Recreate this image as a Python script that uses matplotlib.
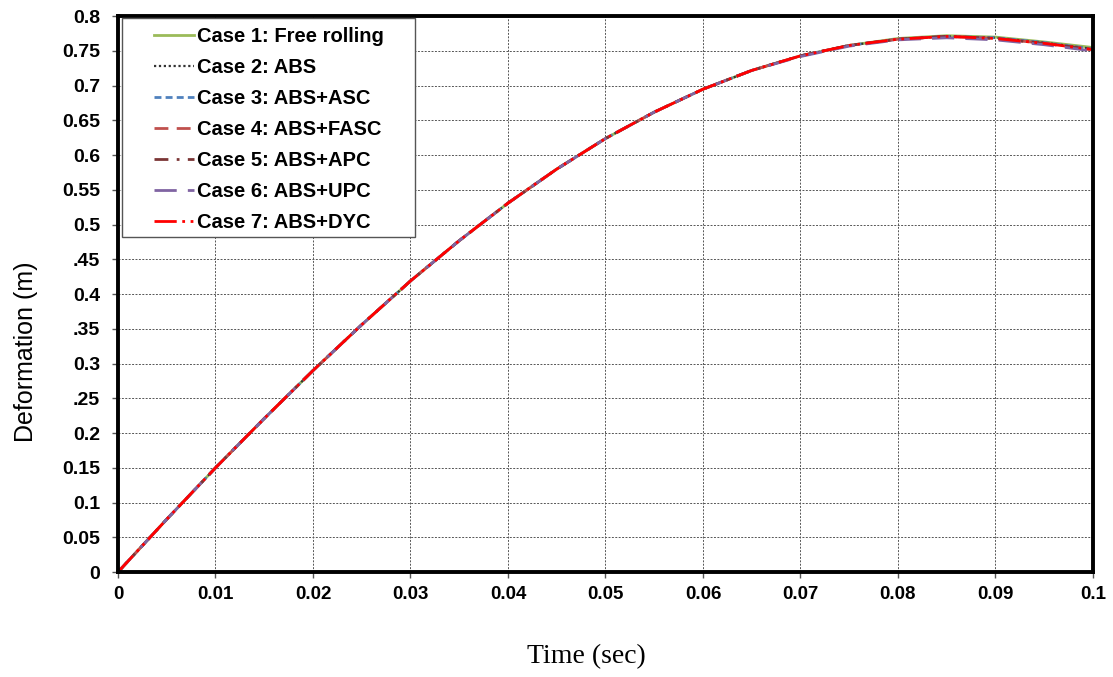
import numpy as np
import matplotlib
matplotlib.use('Agg')
import matplotlib.pyplot as plt
from matplotlib.patches import Rectangle

# time axis (sec)
time = [0.0, 0.005, 0.01, 0.015, 0.02, 0.025, 0.03, 0.035, 0.04, 0.045, 0.05,
        0.055, 0.06, 0.065, 0.07, 0.075, 0.08, 0.085, 0.09, 0.095, 0.1]

# deformation (m), one list per case
case1 = [0.0, 0.076, 0.150, 0.221, 0.290, 0.356, 0.419, 0.477, 0.531, 0.580, 0.624,
         0.662, 0.695, 0.722, 0.743, 0.758, 0.768, 0.772, 0.770, 0.763, 0.755]
case2 = [0.0, 0.076, 0.150, 0.221, 0.290, 0.356, 0.419, 0.477, 0.531, 0.580, 0.624,
         0.662, 0.695, 0.722, 0.743, 0.758, 0.767, 0.771, 0.769, 0.762, 0.753]
case3 = [0.0, 0.076, 0.150, 0.221, 0.290, 0.356, 0.419, 0.477, 0.531, 0.580, 0.624,
         0.662, 0.695, 0.722, 0.743, 0.758, 0.767, 0.771, 0.769, 0.762, 0.753]
case4 = [0.0, 0.076, 0.150, 0.221, 0.290, 0.356, 0.419, 0.477, 0.531, 0.580, 0.624,
         0.662, 0.695, 0.722, 0.743, 0.758, 0.767, 0.771, 0.768, 0.761, 0.752]
case5 = [0.0, 0.076, 0.150, 0.221, 0.290, 0.356, 0.419, 0.477, 0.531, 0.580, 0.624,
         0.662, 0.695, 0.722, 0.743, 0.758, 0.767, 0.771, 0.768, 0.761, 0.752]
case6 = [0.0, 0.076, 0.150, 0.221, 0.290, 0.356, 0.419, 0.477, 0.531, 0.580, 0.624,
         0.662, 0.695, 0.722, 0.742, 0.757, 0.766, 0.769, 0.766, 0.759, 0.750]
case7 = [0.0, 0.076, 0.150, 0.221, 0.290, 0.356, 0.419, 0.477, 0.531, 0.580, 0.624,
         0.662, 0.695, 0.722, 0.743, 0.758, 0.767, 0.771, 0.768, 0.761, 0.752]

labels = ['Case 1: Free rolling', 'Case 2: ABS', 'Case 3: ABS+ASC',
          'Case 4: ABS+FASC', 'Case 5: ABS+APC', 'Case 6: ABS+UPC',
          'Case 7: ABS+DYC']

x_ticks = [0, 0.01, 0.02, 0.03, 0.04, 0.05, 0.06, 0.07, 0.08, 0.09, 0.1]
x_ticklabels = ['0', '0.01', '0.02', '0.03', '0.04', '0.05', '0.06', '0.07',
                '0.08', '0.09', '0.1']
y_ticks = [0, 0.05, 0.1, 0.15, 0.2, 0.25, 0.3, 0.35, 0.4, 0.45, 0.5, 0.55,
           0.6, 0.65, 0.7, 0.75, 0.8]
y_ticklabels = ['0', '0.05', '0.1', '0.15', '0.2', '.25', '0.3', '.35', '0.4',
                '.45', '0.5', '0.55', '0.6', '0.65', '0.7', '0.75', '0.8']

plt.rcParams['font.family'] = ['Liberation Sans', 'DejaVu Sans']

fig = plt.figure(figsize=(11.13, 6.77), dpi=100)
ax = fig.add_axes([0.106, 0.155, 0.876, 0.821])

series = [case1, case2, case3, case4, case5, case6, case7]
styles = [
    dict(color='#9bbb59', ls='-', lw=2),
    dict(color='#333333', ls=(0, (1, 1.2)), lw=1.6),
    dict(color='#4f81bd', ls=(0, (2.5, 1.5)), lw=2),
    dict(color='#c0504d', ls=(0, (5, 3)), lw=2),
    dict(color='#7b3535', ls=(0, (5, 3, 1, 3)), lw=2),
    dict(color='#8064a2', ls=(0, (8, 4)), lw=2),
    dict(color='#ff0000', ls=(0, (8, 2, 1, 2, 1, 2)), lw=2),
]
for y, st, lab in zip(series, styles, labels):
    ax.plot(time, y, label=lab, **st)

ax.set_xlim(0, 0.1)
ax.set_ylim(0, 0.8)
ax.set_xticks(x_ticks)
ax.set_xticklabels(x_ticklabels, fontsize=13.5, fontweight='bold')
ax.set_yticks(y_ticks)
ax.set_yticklabels(y_ticklabels, fontsize=14, fontweight='bold')
ax.tick_params(axis='y', pad=9)
ax.tick_params(axis='both', direction='out', length=4, width=1, color='#555555')
ax.tick_params(axis='x', pad=6)

ax.grid(True, ls=(0, (2, 1.5)), color='#555555', lw=0.7)
for sp in ax.spines.values():
    sp.set_linewidth(2.8)
    sp.set_color('black')

ax.set_ylabel('Deformation (m)', fontsize=18)
ax.yaxis.set_label_coords(-0.082, 0.397)
ax.set_xlabel('Time (sec)', fontsize=20, family='Liberation Serif')
ax.xaxis.set_label_coords(0.48, -0.129)

# legend frame drawn separately so the box can be wider than its content
ax.add_patch(Rectangle((0.004, 0.6025), 0.301, 0.3935, transform=ax.transAxes,
                       facecolor='white', edgecolor='#555555', lw=1, zorder=4))
leg = ax.legend(loc='upper left', bbox_to_anchor=(0.037, 0.981),
                prop={'weight': 'bold', 'size': 14.5}, handlelength=2.0,
                handletextpad=0.15, labelspacing=0.6, borderpad=0,
                borderaxespad=0, frameon=False)
leg.set_zorder(5)

fig.savefig('out.png', dpi=100)
